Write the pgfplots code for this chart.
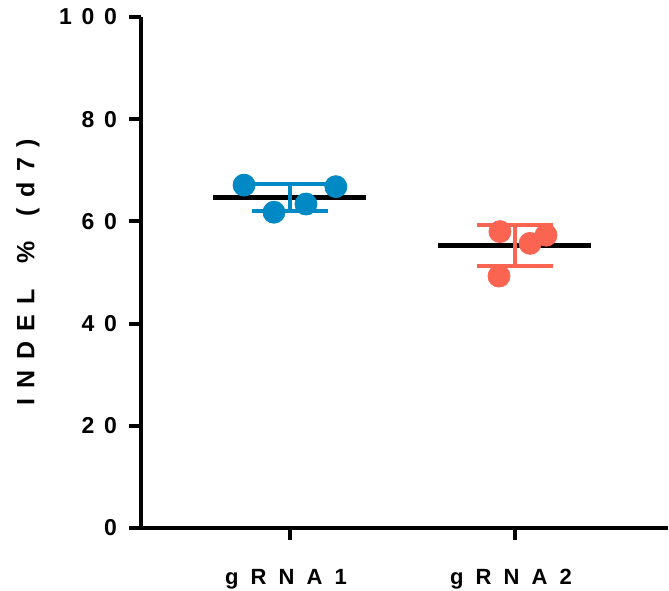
\documentclass[border=0pt]{standalone}
\usepackage{fontspec}
\setmainfont{Liberation Sans}
\usepackage{pgfplots}
\pgfplotsset{compat=1.18}
\definecolor{gblue}{RGB}{0,137,196}
\definecolor{gred}{RGB}{250,100,80}
\newcommand{\gp}{\hspace{0.42em}}
\newcommand{\gx}{\hspace{0.55em}}
\begin{document}
\begin{tikzpicture}
\begin{axis}[name=a, scale only axis, width=263.5pt, height=255.5pt,
 xmin=0.338, xmax=2.68, ymin=0, ymax=100,
 axis x line*=bottom, axis y line*=left,
 axis line style={line width=2pt,-},
 xtick={1,2}, xticklabels={g\gx R\gx N\gx A\gx 1, g\gx R\gx N\gx A\gx 2},
 ytick={0,20,40,60,80,100},
 yticklabels={0, 2\gp 0, 4\gp 0, 6\gp 0, 8\gp 0, 1\gp 0\gp 0},
 tick align=outside, major tick length=6pt,
 tick style={line width=2pt, black},
 yticklabel style={font=\bfseries\fontsize{11.5}{13}\selectfont, xshift=-2.5pt},
 xticklabel style={font=\bfseries\fontsize{11}{13}\selectfont, yshift=-11pt, xshift=-2pt},
 ylabel={I\gp N\gp D\gp E\gp L\hspace{1em}\%\hspace{1em}(\gp d\gp 7\gp )},
 ylabel style={font=\bfseries\fontsize{12.5}{14}\selectfont, yshift=3pt},
 clip=false,
 /pgf/number format/assume math mode=true,
]
% mean lines
\addplot[black, line width=2.5pt] coordinates {(0.66,64.6) (1.34,64.6)};
\addplot[black, line width=2.5pt] coordinates {(1.66,55.2) (2.34,55.2)};
% error bars gRNA1
\addplot[gblue, line width=2pt] coordinates {(0.83,67.3) (1.17,67.3)};
\addplot[gblue, line width=2pt] coordinates {(0.83,62.1) (1.17,62.1)};
\addplot[gblue, line width=2pt] coordinates {(1,62.1) (1,67.3)};
% error bars gRNA2
\addplot[gred, line width=2pt] coordinates {(1.83,59.2) (2.17,59.2)};
\addplot[gred, line width=2pt] coordinates {(1.83,51.3) (2.17,51.3)};
\addplot[gred, line width=2pt] coordinates {(2,51.3) (2,59.2)};
% points
\addplot[only marks, mark=*, mark size=5.5pt, color=gblue, mark options={draw=gblue, fill=gblue}]
 coordinates {(0.796,67.1) (0.929,61.8) (1.071,63.4) (1.204,66.8)};
\addplot[only marks, mark=*, mark size=5.5pt, color=gred, mark options={draw=gred, fill=gred}]
 coordinates {(1.933,58.0) (1.929,49.3) (2.067,55.7) (2.138,57.3)};
\end{axis}
\pgfresetboundingbox
\path (a.south west) ++(-70.5pt,-31pt) ++(334.5pt,295pt);
\end{tikzpicture}
\end{document}
